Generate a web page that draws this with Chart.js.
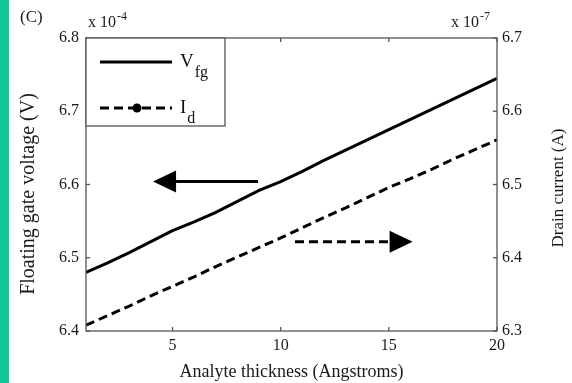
<!DOCTYPE html>
<html>
<head>
<meta charset="utf-8">
<script src="https://cdn.jsdelivr.net/npm/chart.js@4.4.1/dist/chart.umd.min.js"></script>
<style>
  html, body { margin: 0; padding: 0; background: #fff; }
  #wrap { position: relative; width: 572px; height: 383px; }
</style>
</head>
<body>
<div id="wrap"><canvas id="chart" width="572" height="383"></canvas></div>
<script>
// analyte thickness (Angstroms)
const thickness = [1, 2, 3, 4, 5, 6, 7, 8, 9, 10, 11, 12, 13, 14, 15, 16, 17, 18, 19, 20];
// floating gate voltage, x 1e-4 V
const vfg = [6.480, 6.493, 6.507, 6.522, 6.537, 6.549, 6.562, 6.577, 6.592, 6.604,
             6.618, 6.633, 6.647, 6.661, 6.675, 6.689, 6.703, 6.717, 6.731, 6.745];
// drain current, x 1e-7 A
const idrain = [6.308, 6.321, 6.334, 6.348, 6.361, 6.374, 6.388, 6.401, 6.414, 6.427,
                6.441, 6.455, 6.468, 6.482, 6.496, 6.508, 6.521, 6.535, 6.548, 6.561];

const xTicks = [5, 10, 15, 20];
const leftTicks = [6.4, 6.5, 6.6, 6.7, 6.8];
const rightTicks = [6.3, 6.4, 6.5, 6.6, 6.7];

const SERIF = "'Liberation Serif', 'Times New Roman', serif";

// arrows pointing to each curve's axis (data units)
const arrows = [
  { axis: "y",  x0: 8.95, x1: 4.1,  v: 6.604, dashed: false },
  { axis: "y2", x0: 10.66, x1: 16.1, v: 6.422, dashed: true }
];

function line(ctx, x0, y0, x1, y1) {
  ctx.beginPath(); ctx.moveTo(x0, y0); ctx.lineTo(x1, y1); ctx.stroke();
}

// text with a subscript or superscript tail
function richText(ctx, x, y, main, sub, size, subSize, shift) {
  ctx.font = size + "px " + SERIF;
  ctx.fillText(main, x, y);
  const w = ctx.measureText(main).width;
  ctx.font = subSize + "px " + SERIF;
  ctx.fillText(sub, x + w + 1, y + shift);
}

const framePlugin = {
  id: "frame",
  afterDatasetsDraw(chart) {
    const { ctx, chartArea: a, scales } = chart;
    const { x, y, y2 } = scales;
    ctx.save();

    // box + inward ticks
    ctx.strokeStyle = "#555";
    ctx.lineWidth = 1.3;
    ctx.strokeRect(a.left, a.top, a.right - a.left, a.bottom - a.top);
    xTicks.forEach(v => {
      const px = x.getPixelForValue(v);
      line(ctx, px, a.bottom, px, a.bottom - 4);
      line(ctx, px, a.top, px, a.top + 4);
    });
    leftTicks.forEach(v => {
      const py = y.getPixelForValue(v);
      line(ctx, a.left, py, a.left + 4, py);
    });
    rightTicks.forEach(v => {
      const py = y2.getPixelForValue(v);
      line(ctx, a.right, py, a.right - 4, py);
    });

    // arrows
    ctx.strokeStyle = "#000";
    ctx.fillStyle = "#000";
    arrows.forEach(ar => {
      const sc = scales[ar.axis];
      const px0 = x.getPixelForValue(ar.x0);
      const px1 = x.getPixelForValue(ar.x1);
      const py = sc.getPixelForValue(ar.v);
      const dir = Math.sign(px1 - px0);
      const head = 23;
      ctx.lineWidth = 3;
      ctx.setLineDash(ar.dashed ? [9, 5] : []);
      line(ctx, px0, py, px1 - dir * head, py);
      ctx.setLineDash([]);
      ctx.beginPath();
      ctx.moveTo(px1, py);
      ctx.lineTo(px1 - dir * head, py - 11);
      ctx.lineTo(px1 - dir * head, py + 11);
      ctx.closePath();
      ctx.fill();
    });

    // legend box
    const lx = a.left, ly = a.top, lw = 139, lh = 88;
    ctx.fillStyle = "#fff";
    ctx.fillRect(lx, ly, lw, lh);
    ctx.strokeStyle = "#555";
    ctx.lineWidth = 1.3;
    ctx.strokeRect(lx, ly, lw, lh);

    const ds = chart.data.datasets;
    const rows = [ly + 24, ly + 70];
    ds.forEach((d, i) => {
      const ry = rows[i];
      ctx.strokeStyle = "#000";
      ctx.lineWidth = 3;
      ctx.setLineDash(d.borderDash || []);
      line(ctx, lx + 14, ry, lx + 86, ry);
      ctx.setLineDash([]);
      if (d.legendDot) {
        ctx.fillStyle = "#000";
        ctx.beginPath();
        ctx.arc(lx + 51, ry, 4.5, 0, Math.PI * 2);
        ctx.fill();
      }
      ctx.fillStyle = "#111";
      ctx.textBaseline = "alphabetic";
      ctx.textAlign = "left";
      richText(ctx, lx + 94, ry + 5, d.label[0], d.label.slice(1), 19, 16, 10);
    });

    ctx.restore();
  },
  afterDraw(chart) {
    const { ctx, chartArea: a } = chart;
    ctx.save();
    ctx.fillStyle = "#1a1a1a";
    ctx.textBaseline = "alphabetic";
    ctx.textAlign = "left";

    // exponent labels and panel letter
    richText(ctx, 88, 27, "x 10", "-4", 16, 12, -7);
    richText(ctx, 451, 27, "x 10", "-7", 16, 12, -7);
    ctx.font = "17px " + SERIF;
    ctx.fillText("(C)", 20, 22);

    // axis titles
    ctx.textAlign = "center";
    ctx.textBaseline = "middle";
    ctx.font = "18px " + SERIF;
    ctx.fillText("Analyte thickness (Angstroms)", (a.left + a.right) / 2, 372);

    ctx.save();
    ctx.translate(29, 194);
    ctx.rotate(-Math.PI / 2);
    ctx.font = "20px " + SERIF;
    ctx.fillText("Floating gate voltage (V)", 0, 0);
    ctx.restore();

    ctx.save();
    ctx.translate(559, 188);
    ctx.rotate(-Math.PI / 2);
    ctx.font = "17px " + SERIF;
    ctx.fillText("Drain current (A)", 0, 0);
    ctx.restore();

    // teal side strip
    ctx.fillStyle = "#10c898";
    ctx.fillRect(0, 0, 9, 383);
    ctx.restore();
  }
};

const tickFont = { family: SERIF, size: 16 };

new Chart(document.getElementById("chart").getContext("2d"), {
  type: "line",
  data: {
    datasets: [
      {
        label: "Vfg",
        data: thickness.map((t, i) => ({ x: t, y: vfg[i] })),
        yAxisID: "y",
        borderColor: "#000",
        borderWidth: 3,
        pointRadius: 0,
        fill: false
      },
      {
        label: "Id",
        data: thickness.map((t, i) => ({ x: t, y: idrain[i] })),
        yAxisID: "y2",
        borderColor: "#000",
        borderWidth: 3,
        borderDash: [9, 5],
        pointRadius: 0,
        fill: false,
        legendDot: true
      }
    ]
  },
  options: {
    responsive: false,
    animation: false,
    devicePixelRatio: 1,
    layout: { padding: { top: 38, left: 0, right: 0, bottom: 0 } },
    plugins: {
      legend: { display: false },
      tooltip: { enabled: false }
    },
    scales: {
      x: {
        type: "linear",
        position: "bottom",
        min: 1,
        max: 20,
        grid: { display: false, drawTicks: false },
        border: { display: false },
        ticks: { font: tickFont, color: "#1a1a1a", padding: 5, maxRotation: 0 },
        afterBuildTicks: s => { s.ticks = xTicks.map(v => ({ value: v })); },
        afterFit: s => { s.height = 52; }
      },
      y: {
        type: "linear",
        position: "left",
        min: 6.4,
        max: 6.8,
        grid: { display: false, drawTicks: false },
        border: { display: false },
        ticks: { font: tickFont, color: "#1a1a1a", padding: 7, callback: v => v.toFixed(1) },
        afterBuildTicks: s => { s.ticks = leftTicks.map(v => ({ value: v })); },
        afterFit: s => { s.width = 86; }
      },
      y2: {
        type: "linear",
        position: "right",
        min: 6.3,
        max: 6.7,
        grid: { display: false, drawTicks: false },
        border: { display: false },
        ticks: { font: tickFont, color: "#1a1a1a", padding: 5, callback: v => v.toFixed(1) },
        afterBuildTicks: s => { s.ticks = rightTicks.map(v => ({ value: v })); },
        afterFit: s => { s.width = 75; }
      }
    }
  },
  plugins: [framePlugin]
});
</script>
</body>
</html>
